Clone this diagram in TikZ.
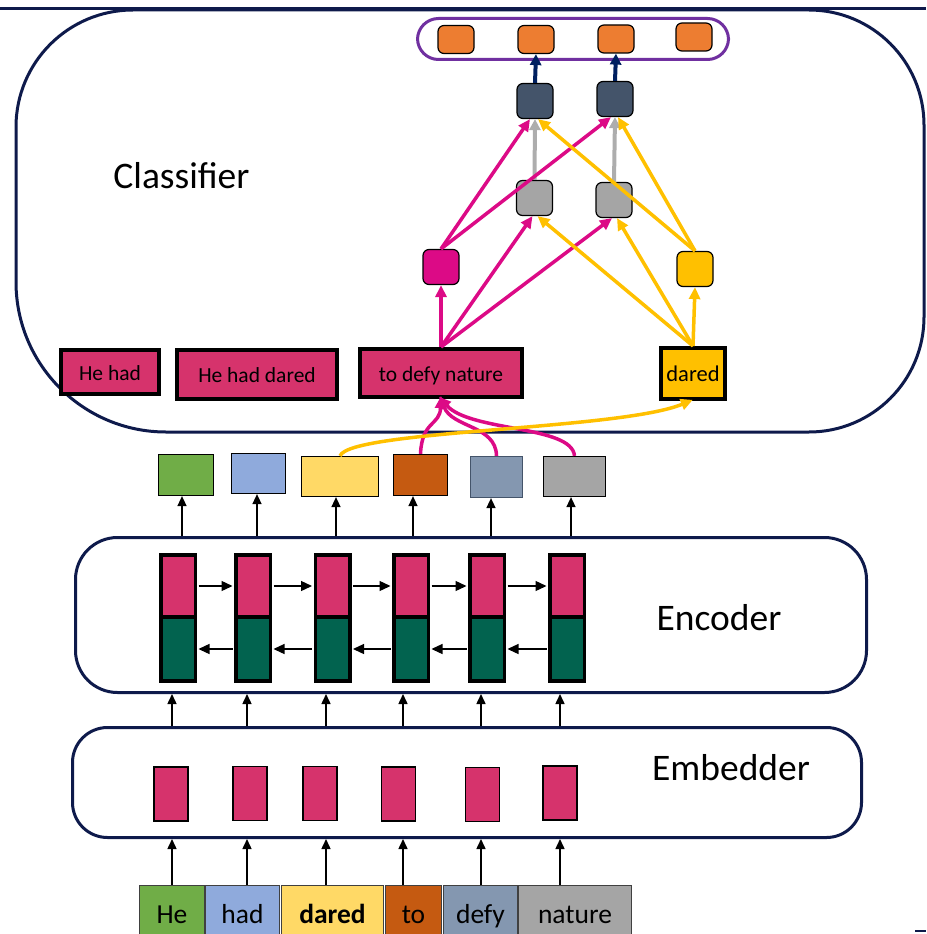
\documentclass[tikz,border=0pt]{standalone}
\usepackage{fontspec}
\setmainfont{Carlito}
\usetikzlibrary{arrows.meta}
\definecolor{navyc}{HTML}{0E1A4B}
\definecolor{pinkc}{HTML}{D6336C}
\definecolor{tealc}{HTML}{02634F}
\definecolor{magc}{HTML}{DC0A86}
\definecolor{yelc}{HTML}{FFC000}
\definecolor{orangec}{HTML}{ED7D31}
\definecolor{darkc}{HTML}{44546A}
\definecolor{greyc}{HTML}{A5A5A5}
\definecolor{greyarr}{HTML}{ADADAD}
\definecolor{navyarr}{HTML}{002060}
\definecolor{purplec}{HTML}{7030A0}
\definecolor{greenc}{HTML}{70AD47}
\definecolor{lbluec}{HTML}{8FAADC}
\definecolor{lyelc}{HTML}{FFD966}
\definecolor{dorangec}{HTML}{C55A11}
\definecolor{slatec}{HTML}{8497B0}
\begin{document}
\begin{tikzpicture}[x=1pt,y=-1pt,
  container/.style={draw=navyc, line width=3pt, inner sep=0},
  lbl/.style={font=\fontsize{37.5}{42}\selectfont, inner sep=0, anchor=base},
  arr/.style={draw=black, line width=1.5pt, -{Triangle[length=10pt,width=9pt]}},
  embbox/.style={draw=black, line width=1.2pt, fill=pinkc, minimum width=34pt, minimum height=54pt, inner sep=0},
  fwdcell/.style={draw=black, line width=3.5pt, fill=pinkc, minimum width=34.5pt, minimum height=62pt, inner sep=0},
  bwdcell/.style={fwdcell, fill=tealc, minimum height=64pt},
  midbox/.style={draw=black, line width=1.2pt, inner sep=0},
  phr/.style={draw=black, line width=4pt, fill=pinkc, inner sep=0, font=\fontsize{21.5}{24}\selectfont, text height=18.5pt, text depth=2pt},
  word/.style={draw=black!75, line width=1pt, inner sep=0, minimum height=56pt, font=\fontsize{27.5}{30}\selectfont, text height=23pt, text depth=3pt},
  sq/.style={draw=black, line width=1.2pt, rounded corners=6pt, minimum width=36pt, minimum height=35pt, inner sep=0},
  osq/.style={sq, fill=orangec, minimum height=28pt},
  marr/.style={draw=magc, line width=3.5pt, -{Triangle[length=12pt,width=11pt]}},
  yarr/.style={draw=yelc, line width=3.5pt, -{Triangle[length=12pt,width=11pt]}},
  garr/.style={draw=greyarr, line width=4pt, -{Triangle[length=11pt,width=11pt]}},
  narr/.style={draw=navyarr, line width=4pt, -{Triangle[length=11pt,width=11pt]}},
  sarr/.style={draw=black, line width=1.3pt, -{Triangle[length=11pt,width=10pt]}, shorten >=1.5pt, shorten <=1.5pt}
]
\useasboundingbox (0,0) rectangle (926,934);

% top rule and classifier container
\draw[navyc, line width=3pt] (0,9) -- (926,9);
\draw[container] (16,127) .. controls (16,62.4) and (68.4,10) .. (133,10)
  -- (809,10) .. controls (872.5,10) and (924,61.5) .. (924,125)
  -- (924,317) .. controls (924,380.5) and (872.5,432) .. (809,432)
  -- (166,432) .. controls (83.2,432) and (16,364.8) .. (16,282) -- cycle;
\node[lbl] (clsl) at (181.5,188) {Classifier};

% encoder / embedder containers
\node[container, rounded corners=42pt, minimum width=791pt, minimum height=155pt] (enc) at (471,615) {};
\node[lbl] (encl) at (719,630) {Encoder};
\node[container, rounded corners=35pt, minimum width=789pt, minimum height=110pt] (emb) at (467,782.5) {};
\node[lbl] (embl) at (731,780) {Embedder};

% words
\node[word, fill=greenc, minimum width=65pt] (w1) at (172,913) {He};
\node[word, fill=lbluec, minimum width=74pt] (w2) at (242.5,913) {had};
\node[word, fill=lyelc, minimum width=102pt, font=\fontsize{27.5}{30}\selectfont\bfseries] (w3) at (332.5,913) {dared};
\node[word, fill=dorangec, minimum width=56pt] (w4) at (413.5,913) {to};
\node[word, fill=slatec, minimum width=74pt] (w5) at (480.5,913) {defy};
\node[word, fill=greyc, minimum width=113pt] (w6) at (575,913) {nature};

% embedder boxes
\node[embbox] (e1) at (171,794) {};
\node[embbox] (e2) at (250,793.5) {};
\node[embbox] (e3) at (320,793.5) {};
\node[embbox] (e4) at (398.5,794) {};
\node[embbox] (e5) at (482.5,794.5) {};
\node[embbox] (e6) at (560,793) {};

% word -> embedder
\draw[arr] (172,0 |- w1.north) -- (172,0 |- emb.south);
\draw[arr] (247,0 |- w2.north) -- (247,0 |- emb.south);
\draw[arr] (326,0 |- w3.north) -- (326,0 |- emb.south);
\draw[arr] (403,0 |- w4.north) -- (403,0 |- emb.south);
\draw[arr] (481,0 |- w5.north) -- (481,0 |- emb.south);
\draw[arr] (560,0 |- w6.north) -- (560,0 |- emb.south);

% embedder -> encoder
\draw[arr] (172,0 |- emb.north) -- (172,0 |- enc.south);
\draw[arr] (247,0 |- emb.north) -- (247,0 |- enc.south);
\draw[arr] (326,0 |- emb.north) -- (326,0 |- enc.south);
\draw[arr] (403,0 |- emb.north) -- (403,0 |- enc.south);
\draw[arr] (481,0 |- emb.north) -- (481,0 |- enc.south);
\draw[arr] (560,0 |- emb.north) -- (560,0 |- enc.south);

% encoder cells
\foreach \i/\x in {1/178,2/253,3/332.5,4/411,5/487,6/567}{
  \node[bwdcell] (b\i) at (\x,649) {};
  \node[fwdcell] (f\i) at (\x,586) {};
}
\foreach \i/\j in {1/2,2/3,3/4,4/5,5/6}{
  \draw[sarr] (f\i.east) -- (f\j.west);
  \draw[sarr] (b\j.west) -- (b\i.east);
}

% middle coloured boxes
\node[midbox, fill=greenc, minimum width=55pt, minimum height=41pt] (m1) at (186,475) {};
\node[midbox, fill=lbluec, minimum width=54pt, minimum height=40pt] (m2) at (258.5,473.5) {};
\node[midbox, fill=lyelc, minimum width=77pt, minimum height=40pt] (m3) at (340,476.5) {};
\node[midbox, fill=dorangec, minimum width=54pt, minimum height=41pt] (m4) at (420.5,475) {};
\node[midbox, draw=darkc, fill=slatec, minimum width=52pt, minimum height=41pt] (m5) at (496.5,477) {};
\node[midbox, fill=greyc, minimum width=62pt, minimum height=40pt] (m6) at (574.5,476.5) {};

% encoder -> middle boxes
\draw[arr] (182,0 |- enc.north) -- (182,0 |- m1.south);
\draw[arr] (257,0 |- enc.north) -- (257,0 |- m2.south);
\draw[arr] (336,0 |- enc.north) -- (336,0 |- m3.south);
\draw[arr] (413,0 |- enc.north) -- (413,0 |- m4.south);
\draw[arr] (491,0 |- enc.north) -- (491,0 |- m5.south);
\draw[arr] (571,0 |- enc.north) -- (571,0 |- m6.south);

% classifier phrase boxes
\node[phr, minimum width=98pt, minimum height=44pt] (hh) at (110,372) {He had};
\node[phr, minimum width=160pt, minimum height=49pt] (hhd) at (257,374.5) {He had dared};
\node[phr, minimum width=162pt, minimum height=48pt] (tdn) at (441,373) {to defy nature};
\node[phr, fill=yelc, minimum width=64pt, minimum height=51pt, font=\fontsize{22.5}{24}\selectfont] (dared) at (693,373.5) {dared};

% curves from middle boxes
\draw[marr, shorten >=-3pt] (m4.north) .. controls (422,420) and (440,426) .. (tdn.south);
\draw[marr, shorten >=-3pt] (m5.north) .. controls (496,425) and (452,428) .. (tdn.south);
\draw[marr, shorten >=-3pt] (m6.north) .. controls (572,425) and (470,432) .. (tdn.south);
\draw[yarr, shorten >=-3pt] (m3.north) .. controls (350,430) and (620,430) .. ([xshift=-3pt]dared.south);

% classifier squares
\node[sq, fill=magc] (msq) at (441,267) {};
\node[sq, fill=yelc] (ysq) at (695,269) {};
\node[sq, fill=greyc] (g1) at (534.5,198) {};
\node[sq, fill=greyc] (g2) at (614,200) {};
\node[sq, fill=darkc] (d1) at (535,101) {};
\node[sq, fill=darkc] (d2) at (615,99) {};
\node[draw=purplec, line width=3pt, rounded corners=21pt, minimum width=311pt, minimum height=41pt, inner sep=0] (outbox) at (573,39) {};
\node[osq] (o1) at (456,39.5) {};
\node[osq] (o2) at (536,39.5) {};
\node[osq] (o3) at (616,39) {};
\node[osq] (o4) at (694,37) {};

% classifier connectors
\draw[garr] (g1.north) -- (d1.south);
\draw[garr] (g2.north) -- (d2.south);
\draw[marr] (tdn.north) -- (msq.south);
\draw[marr] (tdn.north) -- ([xshift=-2pt]g1.south);
\draw[marr] (tdn.north) -- ([xshift=-2pt]g2.south);
\draw[yarr] (dared.north) -- (ysq.south);
\draw[yarr] (dared.north) -- ([xshift=3pt]g1.south);
\draw[yarr] (dared.north) -- ([xshift=3pt]g2.south);
\draw[marr] (msq.north) -- ([xshift=-5pt]d1.south);
\draw[marr] (msq.north) -- ([xshift=-4pt]d2.south);
\draw[yarr] (ysq.north) -- ([xshift=3pt]d1.south);
\draw[yarr] (ysq.north) -- ([xshift=3pt]d2.south);
\draw[narr] (d1.north) -- (o2.south);
\draw[narr] (d2.north) -- (o3.south);

% small mark at bottom right
\draw[navyc, line width=1.5pt] (915,931) -- (926,931);
\end{tikzpicture}
\end{document}
